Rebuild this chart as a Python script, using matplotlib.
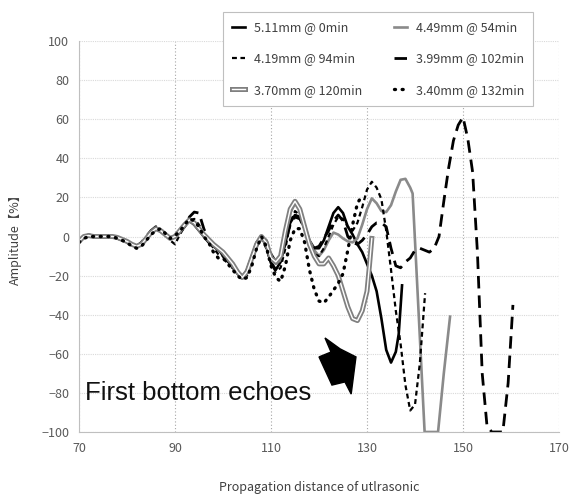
import matplotlib
matplotlib.use("Agg")
import matplotlib.pyplot as plt
import matplotlib.patheffects as pe
from matplotlib.patches import Polygon

plt.rcParams['font.family'] = ['Noto Sans CJK JP', 'DejaVu Sans']

# shared sampling of the first part of the waveforms (mm)
dist_early = [70, 71, 72, 73, 74, 75, 76, 77, 78, 79, 80, 81, 82, 83, 84, 85, 86, 87, 88, 89, 90,
              91, 92, 93, 94, 95, 96, 97, 98, 99, 100, 101, 102, 103, 104, 105, 106, 107, 108, 109, 110]

# 5.11mm @ 0min
a_early = [-3, 0, 0.5, 0, 0, 0, 0, 0, -0.5, -1.5, -2.5, -4, -5, -4, -1, 2, 4.5, 3, 1, -1, 0,
           3, 6, 8, 6, 3, 0, -3, -5, -7, -9, -12, -15, -19, -21, -17, -10, -3, 0, -5, -13]
a_x = [111, 112, 113, 114, 115, 116, 117, 118, 119, 120, 121, 122, 123, 124, 125, 126, 127, 128,
       129, 130, 131, 132, 133, 134, 135, 136, 136.6, 137.3]
a_y = [-17, -13, -3, 7, 11, 10, 4, -2, -6, -6, -2, 5, 12, 15, 12, 5, 1, -4,
       -8, -14, -20, -28, -42, -58, -64.5, -59, -50, -25]

# 4.49mm @ 54min
b_early = [-2, 0, 0.5, 0, 0, 0, 0, -0.5, -1, -2, -3, -4.5, -5, -3.5, -0.5, 2.5, 4, 2.5, 0.5, -1, 0.5,
           3.5, 6.5, 8, 6.5, 3.5, 0.5, -2, -4.5, -6.5, -8.5, -11, -14, -18, -20, -18, -11, -4, -1, -4, -12]
b_x = [111, 112, 113, 114, 115, 116, 117, 118, 119, 120, 121, 122, 123, 124, 125, 126, 127, 128,
       129, 130, 131, 132, 133, 134, 135, 136, 137, 138, 139, 139.5, 142, 143, 144, 144.8, 146, 147.3]
b_y = [-14, -12, 0, 12, 17, 14, 6, -2, -7, -10, -7, -2, 2, 1, -1, -2.5, -3, -1,
       6, 14, 19.5, 17, 13, 12.5, 16, 23, 29, 29.5, 25, 22, -100, -100, -100, -100, -70, -41]

# 4.19mm @ 94min
c_early = [-2, 0, 1, 0.5, 0, 0, -0.5, -0.5, -1, -2, -3, -4.5, -5.5, -4.5, -1.5, 1.5, 4, 3.5, 1.5, -2, -4,
           1, 5, 8, 9, 6, 1, -2, -6, -9, -10, -13, -15, -19, -22, -20, -12, -5, -1, -6, -14]
c_x = [111, 112, 113, 114, 115, 116, 117, 118, 119, 120, 121, 122, 123, 124, 125, 126, 127, 128,
       129, 130, 131, 132, 133, 134, 135, 136, 137, 138, 139, 140, 141, 142.1]
c_y = [-18, -16, -6, 7, 13, 11, 4, -4, -9, -10, -6, 0, 6, 10, 9, 5, 3, 7,
       15, 24, 28, 25, 19, 3, -17, -38, -55, -76, -89, -86, -65, -29]

# 3.99mm @ 102min
d_early = [-3, -0.5, 0, 0, 0.5, 0.5, 0, 0, -1, -1.5, -2.5, -4, -5, -3, 0, 3, 5, 4, 1, -0.5, 0,
           2, 5, 10, 12.5, 12, 4, -2, -4, -6, -10, -14, -16, -18, -20, -19, -13, -5, 0, -2, -9]
d_x = [111, 112, 113, 114, 115, 116, 117, 118, 119, 120, 121, 122, 123, 124, 125, 126, 127, 128,
       129, 130, 131, 132, 133, 134, 135, 136, 137, 138, 139, 140, 141, 142, 143, 144, 145, 146,
       147, 148, 149, 150, 151, 152, 153, 154, 155, 156, 157, 158.3, 159.4, 160.4]
d_y = [-13, -11, -3, 6, 10, 9, 4, -3, -6, -5, -1, 3, 8, 11, 8, 0, -3, -4,
       -2, 1, 5, 7, 7, 5, -6, -15, -16, -13, -11, -7, -6, -7, -8, -6, 0, 18,
       35, 49, 57, 61, 50, 33, -8, -70, -97, -100, -100, -100, -75, -35]

# 3.70mm @ 120min
e_early = [-2.5, 0, 0.5, 0, 0, 0, 0, 0, -0.5, -1.5, -2.5, -4, -5, -4, -1, 2, 4, 3, 1, -1, 0,
           3, 6, 8.5, 7, 4, 1, -1.5, -4, -6, -8, -11, -14, -18, -21, -18, -11, -4, 0, -3, -11]
e_x = [111, 112, 113, 114, 115, 116, 117, 118, 119, 120, 121, 122, 123, 124, 125, 126, 127, 128,
       129, 130, 130.5, 131]
e_y = [-13, -10, 3, 14, 18, 14, 5, -4, -10, -14, -14, -11, -15, -20, -28, -36, -42, -43,
       -38, -28, -15, -1]

# 3.40mm @ 132min
f_early = [-3, -1, 0, 0, 0, 0, 0, 0, -1, -2, -3, -5, -6, -5, -2, 1, 3, 4, 1.5, -1, 0.5,
           2.5, 6, 9, 8, 5, 0, -3, -8, -11, -11, -14, -17, -20, -22, -21, -15, -6, 0, -5, -15]
f_x = [111, 112, 113, 114, 115, 116, 117, 118, 119, 120, 121, 122, 123, 124, 125, 126, 127, 128, 128.5]
f_y = [-21, -23, -15, -2, 4, 4, -3, -17, -27, -33, -34, -31, -27.5, -24, -19, -7, 6, 17, 19]

fig = plt.figure(figsize=(5.71, 4.99), dpi=100)
ax = fig.add_axes([0.1384, 0.1343, 0.8406, 0.7835])

lines = {}
lines['a'], = ax.plot(dist_early + a_x, a_early + a_y, color='black', lw=1.9,
                      label='5.11mm @ 0min')
lines['b'], = ax.plot(dist_early + b_x, b_early + b_y, color='#8a8a8a', lw=1.9,
                      label='4.49mm @ 54min')
lines['c'], = ax.plot(dist_early + c_x, c_early + c_y, color='black', lw=1.6,
                      linestyle=(0, (2.2, 1.6)), label='4.19mm @ 94min')
lines['d'], = ax.plot(dist_early + d_x, d_early + d_y, color='black', lw=2.0,
                      linestyle=(0, (4.5, 2.5)), label='3.99mm @ 102min')
lines['e'], = ax.plot(dist_early + e_x, e_early + e_y, color='white', lw=1.0,
                      label='3.70mm @ 120min',
                      path_effects=[pe.Stroke(linewidth=3.6, foreground='#808080'), pe.Normal()])
lines['f'], = ax.plot(dist_early + f_x, f_early + f_y, color='black', lw=2.4,
                      linestyle=(0, (0.3, 2.0)), dash_capstyle='round',
                      label='3.40mm @ 132min')

ax.set_xlim(70, 170)
ax.set_ylim(-100, 100)
ax.set_xticks([70, 90, 110, 130, 150, 170])
ax.set_yticks(range(-100, 101, 20))

ax.grid(axis='y', color='#d9d9d9', lw=0.8, linestyle=(0, (1, 1)))
ax.grid(axis='x', color='#a6a6a6', lw=0.8, linestyle=(0, (1, 2)))
ax.set_axisbelow(True)
for side in ['top', 'right']:
    ax.spines[side].set_visible(False)
ax.spines['left'].set_color('#bfbfbf')
ax.spines['bottom'].set_color('#bfbfbf')
ax.tick_params(length=0, labelsize=9, labelcolor='#595959', pad=7)

ax.set_xlabel('Propagation distance of utlrasonic', fontsize=9, color='#404040', labelpad=19)
ax.set_ylabel('Amplitude【%】', fontsize=9, color='#404040', labelpad=14)

# arrow pointing at the first bottom echoes
arrow = Polygon([[121.25, -51.9], [124.4, -57.5], [127.7, -61.6], [126.7, -80.6],
                 [125.4, -74.4], [122.7, -76], [120.0, -61.6], [122.5, -59.1]],
                closed=True, facecolor='black', edgecolor='black')
ax.add_patch(arrow)
ax.text(71.3, -80, 'First bottom echoes', fontsize=18.5, family='Liberation Sans',
        va='center', ha='left', color='#111111')

order = ['a', 'c', 'e', 'b', 'd', 'f']
leg = fig.legend([lines[k] for k in order], [lines[k].get_label() for k in order],
                 ncol=2, loc='upper left', bbox_to_anchor=(223 / 571, 1 - 12 / 499),
                 borderaxespad=0, fontsize=9, frameon=True, fancybox=False, framealpha=1,
                 edgecolor='#bfbfbf', handlelength=1.0, handletextpad=0.7,
                 labelspacing=1.45, columnspacing=2.6, borderpad=0.75)
for t in leg.get_texts():
    t.set_color('#404040')
leg.get_frame().set_linewidth(0.8)

fig.savefig('out.png', dpi=100)
